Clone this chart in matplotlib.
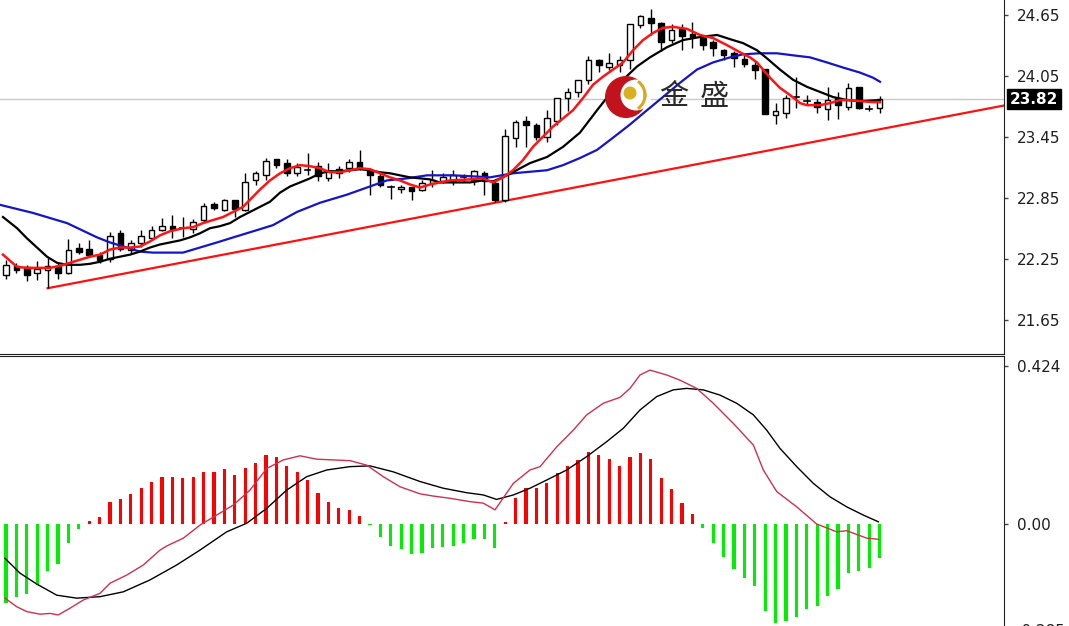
import matplotlib
matplotlib.use("Agg")
import matplotlib.pyplot as plt
from matplotlib.patches import Rectangle, Circle, Arc
from matplotlib.transforms import blended_transform_factory

# candles (open, high, low, close)
opens = [22.09, 22.18, 22.17, 22.11, 22.14, 22.18, 22.11, 22.36, 22.35, 22.29,
         22.25, 22.50, 22.34, 22.40, 22.45, 22.53, 22.57, 22.55, 22.54, 22.63,
         22.79, 22.73, 22.83, 22.73, 23.02, 23.07, 23.23, 23.19, 23.09, 23.12,
         23.16, 23.04, 23.09, 23.14, 23.20, 23.12, 23.06, 22.96, 22.94, 22.96,
         22.93, 22.99, 23.01, 23.01, 23.05, 23.02, 23.09, 22.99, 22.83, 23.44,
         23.60, 23.56, 23.45, 23.60, 23.83, 23.89, 24.01, 24.20, 24.14, 24.15,
         24.20, 24.55, 24.62, 24.57, 24.40, 24.51, 24.46, 24.42, 24.38, 24.30,
         24.27, 24.21, 24.15, 24.12, 23.66, 23.68, 23.84, 23.80, 23.79, 23.72,
         23.83, 23.74, 23.94, 23.72, 23.73]
highs = [22.24, 22.21, 22.19, 22.23, 22.26, 22.21, 22.44, 22.40, 22.43, 22.32,
         22.51, 22.53, 22.43, 22.53, 22.57, 22.65, 22.68, 22.66, 22.64, 22.80,
         22.81, 22.84, 22.83, 23.09, 23.11, 23.24, 23.23, 23.23, 23.19, 23.29,
         23.20, 23.19, 23.16, 23.23, 23.32, 23.14, 23.09, 22.97, 22.97, 22.96,
         23.02, 23.12, 23.09, 23.12, 23.08, 23.12, 23.11, 23.01, 23.53, 23.61,
         23.65, 23.58, 23.71, 23.83, 23.93, 24.01, 24.24, 24.21, 24.27, 24.24,
         24.56, 24.65, 24.71, 24.58, 24.56, 24.56, 24.58, 24.45, 24.40, 24.31,
         24.29, 24.25, 24.19, 24.12, 23.78, 23.86, 24.04, 23.86, 23.82, 23.94,
         23.89, 23.98, 23.94, 23.76, 23.85]
lows = [22.05, 22.11, 22.03, 22.04, 21.96, 22.05, 22.10, 22.30, 22.27, 22.21,
        22.22, 22.33, 22.30, 22.37, 22.43, 22.52, 22.45, 22.46, 22.50, 22.61,
        22.73, 22.72, 22.66, 22.72, 22.97, 23.02, 23.14, 23.06, 23.06, 23.07,
        23.01, 23.01, 23.04, 23.10, 23.12, 22.88, 22.96, 22.84, 22.90, 22.83,
        22.92, 22.96, 22.99, 22.97, 23.00, 22.97, 22.88, 22.81, 22.81, 23.35,
        23.35, 23.42, 23.40, 23.56, 23.70, 23.84, 23.97, 24.09, 24.11, 24.09,
        24.12, 24.52, 24.45, 24.29, 24.37, 24.30, 24.32, 24.30, 24.24, 24.20,
        24.14, 24.14, 24.02, 23.67, 23.57, 23.63, 23.73, 23.76, 23.68, 23.61,
        23.62, 23.71, 23.72, 23.70, 23.68]
closes = [22.19, 22.14, 22.09, 22.15, 22.18, 22.11, 22.34, 22.32, 22.29, 22.24,
          22.47, 22.35, 22.40, 22.47, 22.53, 22.57, 22.54, 22.54, 22.61, 22.77,
          22.75, 22.83, 22.74, 23.00, 23.09, 23.21, 23.17, 23.09, 23.15, 23.13,
          23.06, 23.11, 23.13, 23.20, 23.14, 23.07, 22.97, 22.95, 22.96, 22.92,
          22.99, 23.02, 23.05, 23.07, 23.04, 23.11, 23.01, 22.83, 23.46, 23.59,
          23.56, 23.45, 23.63, 23.83, 23.89, 24.01, 24.20, 24.15, 24.17, 24.20,
          24.56, 24.64, 24.57, 24.38, 24.50, 24.44, 24.43, 24.35, 24.32, 24.25,
          24.22, 24.16, 24.11, 23.67, 23.70, 23.83, 23.83, 23.81, 23.74, 23.81,
          23.76, 23.93, 23.73, 23.73, 23.82]

# moving averages (bar index, price)
ma_fast_x = [-0.29, 1.06, 2.02, 2.98, 4.23, 5.19, 6.15, 7.12, 8.08, 9.04, 10.0, 10.96,
             11.92, 12.88, 13.85, 14.81, 15.77, 17.02, 17.98, 18.94, 19.9, 20.87,
             21.83, 22.79, 23.75, 24.42, 25.38, 26.35, 27.31, 28.27, 29.23, 30.19,
             31.15, 32.12, 33.08, 34.04, 35.0, 35.96, 36.92, 37.88, 38.85, 39.81,
             40.77, 41.73, 42.69, 44.62, 45.87, 46.83, 47.79, 48.75, 49.71, 50.67,
             51.63, 52.6, 53.56, 54.52, 55.48, 56.44, 57.4, 58.37, 59.33, 60.29,
             61.25, 62.21, 63.17, 64.13, 65.48, 66.73, 67.98, 69.33, 70.58, 71.54,
             72.21, 72.79, 73.46, 74.42, 75.38, 76.35, 77.02, 78.27, 79.23, 80.19,
             81.15, 82.12, 83.37, 84.04]
ma_fast_y = [22.29, 22.17, 22.16, 22.16, 22.16, 22.18, 22.21, 22.24, 22.27, 22.29, 22.34,
             22.36, 22.36, 22.37, 22.42, 22.48, 22.52, 22.55, 22.56, 22.60, 22.63, 22.66,
             22.71, 22.76, 22.86, 22.93, 23.02, 23.09, 23.14, 23.17, 23.16, 23.14, 23.10,
             23.10, 23.12, 23.14, 23.13, 23.09, 23.05, 23.02, 22.98, 22.95, 22.98, 23.00,
             23.02, 23.03, 23.04, 23.00, 23.05, 23.12, 23.22, 23.35, 23.45, 23.55, 23.63,
             23.71, 23.83, 23.96, 24.04, 24.11, 24.18, 24.30, 24.40, 24.47, 24.52, 24.53,
             24.51, 24.45, 24.42, 24.35, 24.28, 24.23, 24.18, 24.11, 24.03, 23.93, 23.86,
             23.78, 23.76, 23.76, 23.78, 23.81, 23.81, 23.80, 23.79, 23.79]

ma_mid_x = [-0.29, 1.06, 2.02, 2.98, 3.94, 4.9, 5.87, 7.12, 8.08, 9.04, 10.0, 10.96,
            11.92, 12.88, 13.85, 14.81, 15.77, 16.73, 17.69, 18.65, 19.62, 20.58,
            21.54, 22.5, 23.46, 24.42, 25.38, 26.35, 27.31, 28.27, 29.23, 30.19,
            31.15, 32.12, 33.08, 34.04, 35.0, 35.96, 36.92, 37.88, 38.85, 39.81,
            40.77, 41.73, 42.69, 44.62, 45.87, 46.83, 48.17, 50.38, 52.02, 53.56,
            55.19, 56.83, 58.37, 59.33, 60.67, 61.92, 63.56, 65.1, 66.73, 68.37,
            69.9, 70.87, 72.21, 73.17, 74.42, 75.67, 77.02, 78.27, 79.52, 80.87,
            82.12, 84.04]
ma_mid_y = [22.66, 22.55, 22.45, 22.36, 22.27, 22.21, 22.19, 22.19, 22.20, 22.22, 22.25,
            22.27, 22.29, 22.32, 22.36, 22.39, 22.41, 22.43, 22.46, 22.50, 22.55, 22.57,
            22.60, 22.66, 22.71, 22.76, 22.81, 22.90, 22.96, 23.00, 23.04, 23.09, 23.11,
            23.11, 23.12, 23.13, 23.12, 23.10, 23.09, 23.07, 23.05, 23.04, 23.03, 23.00,
            23.00, 23.00, 23.02, 23.01, 23.07, 23.19, 23.25, 23.35, 23.49, 23.71, 23.91,
            24.01, 24.14, 24.23, 24.33, 24.40, 24.43, 24.45, 24.40, 24.37, 24.30, 24.22,
            24.11, 24.01, 23.94, 23.89, 23.84, 23.81, 23.80, 23.81]

ma_slow_x = [-0.58, 2.6, 5.87, 8.75, 10.0, 12.88, 14.13, 17.02, 18.65, 20.29, 21.54,
             23.46, 25.67, 27.98, 30.19, 32.79, 34.71, 36.63, 38.56, 40.48, 42.98,
             44.9, 46.54, 48.75, 52.02, 53.56, 55.19, 56.83, 58.37, 60.0, 61.63,
             63.17, 64.81, 66.44, 67.98, 69.62, 70.87, 72.5, 74.13, 75.67, 77.31,
             78.94, 80.48, 82.12, 83.37, 84.04]
ma_slow_y = [22.78, 22.70, 22.60, 22.46, 22.41, 22.32, 22.31, 22.31, 22.36, 22.41, 22.45,
             22.51, 22.58, 22.71, 22.80, 22.88, 22.95, 23.02, 23.04, 23.07, 23.07, 23.06,
             23.05, 23.09, 23.12, 23.17, 23.24, 23.32, 23.44, 23.57, 23.71, 23.84, 23.98,
             24.11, 24.18, 24.23, 24.26, 24.27, 24.27, 24.25, 24.23, 24.18, 24.13, 24.08,
             24.03, 23.99]

# support line through two lows
trend_x = [4, 47]
trend_y = [21.96, 22.80]
last_price = 23.82
price_ticks = [21.65, 22.25, 22.85, 23.45, 24.05, 24.65]

# MACD
macd_hist = [-0.213, -0.197, -0.188, -0.164, -0.125, -0.107, -0.052, -0.014, 0.009, 0.018,
             0.060, 0.067, 0.081, 0.096, 0.112, 0.125, 0.125, 0.123, 0.125, 0.140,
             0.140, 0.147, 0.132, 0.149, 0.165, 0.185, 0.181, 0.156, 0.140, 0.118,
             0.084, 0.060, 0.042, 0.038, 0.021, -0.002, -0.034, -0.059, -0.068, -0.081,
             -0.077, -0.065, -0.061, -0.059, -0.050, -0.041, -0.041, -0.065, 0.005, 0.069,
             0.096, 0.096, 0.111, 0.136, 0.156, 0.172, 0.194, 0.185, 0.174, 0.156,
             0.181, 0.190, 0.174, 0.123, 0.093, 0.056, 0.026, -0.012, -0.052, -0.088,
             -0.122, -0.146, -0.166, -0.233, -0.267, -0.260, -0.249, -0.229, -0.220, -0.193,
             -0.175, -0.131, -0.125, -0.119, -0.092]

dif_x = [-0.1, 1.03, 1.99, 3.27, 4.23, 5.03, 6.15, 7.43, 9.04, 10.0, 11.61, 13.2, 14.81,
         15.45, 17.05, 18.65, 20.26, 21.86, 23.46, 25.07, 26.66, 28.27, 29.88, 31.47,
         33.08, 34.68, 36.28, 37.88, 39.81, 41.09, 42.69, 44.62, 45.89, 47.02, 48.78,
         50.38, 51.35, 52.95, 54.55, 55.84, 57.43, 59.04, 60.0, 60.96, 61.92, 63.53,
         64.81, 66.41, 68.01, 69.93, 71.86, 72.82, 74.11, 76.03, 77.95, 79.88, 80.84,
         82.76, 83.88]
dif_y = [-0.199, -0.222, -0.235, -0.242, -0.240, -0.244, -0.226, -0.204, -0.186, -0.159,
         -0.137, -0.110, -0.070, -0.059, -0.038, -0.003, 0.024, 0.051, 0.091, 0.149,
         0.172, 0.183, 0.174, 0.172, 0.170, 0.158, 0.127, 0.100, 0.081, 0.075,
         0.069, 0.060, 0.056, 0.038, 0.109, 0.145, 0.154, 0.207, 0.252, 0.293,
         0.324, 0.340, 0.364, 0.400, 0.413, 0.400, 0.386, 0.364, 0.324, 0.270,
         0.212, 0.145, 0.087, 0.046, 0.000, -0.021, -0.018, -0.038, -0.041]

dea_x = [-0.1, 1.35, 2.95, 4.88, 6.8, 9.04, 11.28, 13.85, 16.41, 18.65, 21.22, 23.14,
         25.07, 26.99, 28.91, 30.84, 33.08, 35.0, 37.24, 39.81, 42.05, 44.3, 45.89,
         47.18, 48.78, 50.38, 51.99, 53.91, 55.84, 57.76, 59.36, 60.96, 62.57, 64.16,
         65.45, 67.05, 68.65, 70.26, 71.86, 73.14, 74.42, 76.03, 77.63, 79.23, 80.84,
         82.43, 83.88]
dea_y = [-0.092, -0.132, -0.161, -0.191, -0.199, -0.195, -0.182, -0.150, -0.110, -0.070,
         -0.021, 0.002, 0.042, 0.091, 0.127, 0.145, 0.154, 0.156, 0.140, 0.114,
         0.096, 0.084, 0.078, 0.066, 0.078, 0.096, 0.118, 0.145, 0.181, 0.221,
         0.257, 0.306, 0.342, 0.360, 0.364, 0.360, 0.346, 0.324, 0.293, 0.252,
         0.203, 0.154, 0.109, 0.073, 0.046, 0.024, 0.006]
macd_ticks = [-0.285, 0.0, 0.424]
macd_labels = ["-0.285", "0.00", "0.424"]

W, H = 1069, 626
fig = plt.figure(figsize=(W / 100, H / 100), dpi=100)
fig.patch.set_facecolor("white")

ax = fig.add_axes([0, 1 - 354 / H, 1004 / W, 354 / H])
ax2 = fig.add_axes([0, 1 - 640 / H, 1004 / W, 284 / H])

xlim = (-6 / 10.4, 998 / 10.4)
for a in (ax, ax2):
    a.set_xlim(*xlim)
    a.set_xticks([])
    a.spines["left"].set_visible(False)
    a.spines["right"].set_color("#222222")
    a.yaxis.tick_right()
    a.tick_params(axis="y", direction="out", length=3, width=1, pad=6,
                  labelsize=11, labelcolor="#1e1e1e", colors="#444444")
ax.spines["top"].set_visible(False)
ax.spines["bottom"].set_color("#222222")
ax2.spines["bottom"].set_visible(False)
ax2.spines["top"].set_color("#222222")

# price panel
ax.set_ylim(21.313, 24.794)
ax.set_yticks(price_ticks)
ax.set_yticklabels(["%.2f" % v for v in price_ticks])
for lab in ax.get_yticklabels():
    lab.set_color("#1e1e1e")

ax.axhline(last_price, color="#c8c8c8", lw=1, zorder=1)

tx1 = xlim[1]
slope = (trend_y[1] - trend_y[0]) / (trend_x[1] - trend_x[0])
ax.plot([trend_x[0], tx1], [trend_y[0], trend_y[0] + slope * (tx1 - trend_x[0])],
        color="#ff1010", lw=1.6, zorder=2)

body_w = 0.52
for i, (o, h, l, c) in enumerate(zip(opens, highs, lows, closes)):
    up = c >= o
    ax.plot([i, i], [l, h], color="black", lw=1, zorder=3, solid_capstyle="butt")
    lo, hi = min(o, c), max(o, c)
    if hi - lo < 0.012:
        ax.plot([i - body_w / 2, i + body_w / 2], [o, o], color="black", lw=1.2, zorder=4)
    else:
        ax.add_patch(Rectangle((i - body_w / 2, lo), body_w, hi - lo,
                               facecolor="white" if up else "black",
                               edgecolor="black", lw=1, zorder=4))

ax.plot(ma_slow_x, ma_slow_y, color="#1414c8", lw=1.6, zorder=5)
ax.plot(ma_mid_x, ma_mid_y, color="black", lw=1.6, zorder=5)
ax.plot(ma_fast_x, ma_fast_y, color="#ff1414", lw=1.8, zorder=6)

tr = blended_transform_factory(ax.transAxes, ax.transData)
ax.text(1 + 6 / 1004, last_price, "%.2f" % last_price, transform=tr,
        ha="left", va="center", fontsize=11, color="white", fontweight="bold",
        bbox=dict(boxstyle="square,pad=0.18", fc="black", ec="black"), zorder=10,
        clip_on=False)

# MACD panel
ax2.set_ylim(-0.3113, 0.4509)
ax2.set_yticks(macd_ticks)
ax2.set_yticklabels(macd_labels)
colors = ["#ff0000" if v >= 0 else "#00ee00" for v in macd_hist]
ax2.bar(range(len(macd_hist)), macd_hist, width=0.32, color=colors, zorder=2)
ax2.plot(dea_x, dea_y, color="black", lw=1, zorder=3)
ax2.plot(dif_x, dif_y, color="#d0304e", lw=1, zorder=4)

# watermark logo
ov = fig.add_axes([0, 0, 1, 1], zorder=20)
ov.set_xlim(0, W)
ov.set_ylim(H, 0)
ov.axis("off")
ov.patch.set_alpha(0)
ov.add_patch(Circle((626, 97), 21, fc="#c2121c", ec="none"))
ov.add_patch(Circle((636, 95), 15.5, fc="white", ec="none"))
ov.add_patch(Circle((630, 93), 6.5, fc="#d8b020", ec="none"))
ov.add_patch(Arc((630, 95), 30, 32, theta1=-60, theta2=10, color="#d8a820", lw=2.2))
ov.add_patch(Arc((630, 95), 30, 32, theta1=-10, theta2=60, color="#d8a820", lw=2.2))
ov.text(674, 97, "金", fontsize=21, color="#2a2a2a", ha="center", va="center",
        family=["Noto Sans CJK SC", "DejaVu Sans"])
ov.text(714, 97, "盛", fontsize=21, color="#2a2a2a", ha="center", va="center",
        family=["Noto Sans CJK SC", "DejaVu Sans"])

fig.savefig("out.png", dpi=100)
